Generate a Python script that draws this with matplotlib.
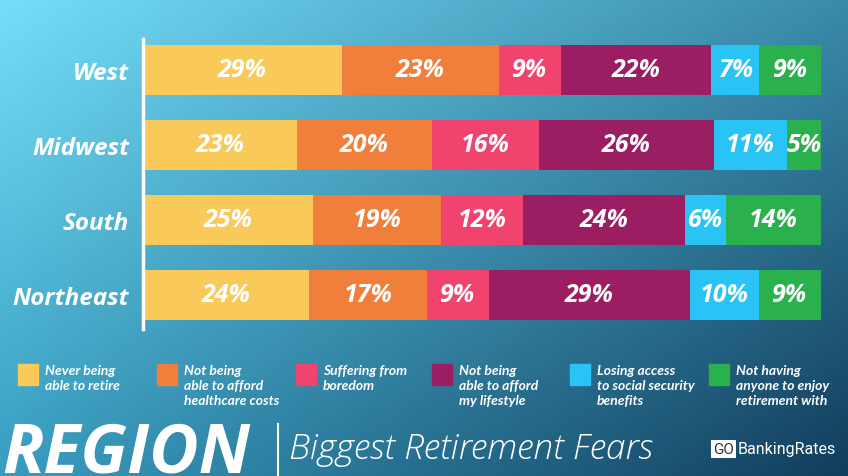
import numpy as np
import matplotlib
matplotlib.use("Agg")
import matplotlib.pyplot as plt
from matplotlib.colors import to_rgb
from matplotlib.patches import Rectangle

regions = ["West", "Midwest", "South", "Northeast"]
fears = ["Never being\nable to retire",
         "Not being\nable to afford\nhealthcare costs",
         "Suffering from\nboredom",
         "Not being\nable to afford\nmy lifestyle",
         "Losing access\nto social security\nbenefits",
         "Not having\nanyone to enjoy\nretirement with"]
never_retire = [29, 23, 25, 24]
healthcare = [23, 20, 19, 17]
boredom = [9, 16, 12, 9]
lifestyle = [22, 26, 24, 29]
social_security = [7, 11, 6, 10]
no_one = [9, 5, 14, 9]
colors = ["#f9c95a", "#f07f3c", "#f0436e", "#9b1d62", "#29c3f5", "#2bb04e"]

series = [never_retire, healthcare, boredom, lifestyle, social_security, no_one]

W, H = 848, 477
fig = plt.figure(figsize=(W / 100, H / 100), dpi=100)

# background gradient
bg = fig.add_axes([0, 0, 1, 1])
tl, tr, bl, br = [np.array(to_rgb(c)) for c in ("#74def8", "#3a8aab", "#389dc0", "#123d5c")]
xs = np.linspace(0, 1, 200)[None, :, None]
ys = np.linspace(0, 1, 120)[:, None, None]
img = (1 - ys) * ((1 - xs) * tl + xs * tr) + ys * ((1 - xs) * bl + xs * br)
bg.imshow(img, aspect="auto", extent=[0, 1, 0, 1], origin="upper")
bg.set_xlim(0, 1)
bg.set_ylim(0, 1)
bg.axis("off")

# main bar chart
ax = fig.add_axes([143 / W, 1 - 330 / H, 678 / W, 290 / H])
ax.patch.set_alpha(0)
data = np.array(series, dtype=float)
totals = data.sum(axis=0)
norm = data / totals * 100
ypos = np.arange(len(regions))
left = np.zeros(len(regions))
for i, vals in enumerate(norm):
    ax.barh(ypos, vals, left=left, height=50 / 75, color=colors[i], linewidth=0)
    for j, v in enumerate(vals):
        ax.text(left[j] + v / 2, ypos[j], f"{int(data[i][j])}%", ha="center", va="center",
                color="white", fontsize=18, fontweight="bold", fontstyle="italic",
                family="Open Sans")
    left += vals
ax.set_xlim(0, 100)
ax.set_ylim(3 + 34 / 75, -31 / 75)
ax.set_yticks(ypos)
ax.set_yticklabels(regions, fontsize=17.5, fontweight="bold", fontstyle="italic",
                   family="Open Sans", color="white")
ax.tick_params(axis="y", length=0, pad=10)
ax.set_xticks([])
for s in ("top", "right", "bottom"):
    ax.spines[s].set_visible(False)
ax.spines["left"].set_color("white")
ax.spines["left"].set_linewidth(2.5)

# legend
leg_x = [18, 157, 296, 432, 570, 709]
for x, lab, c in zip(leg_x, fears, colors):
    bg.add_patch(Rectangle((x / W, 1 - 386 / H), 20 / W, 21 / H, color=c, transform=bg.transAxes))
    bg.text((x + 27) / W, 1 - 365 / H, lab, ha="left", va="top", color="white",
            fontsize=10, fontweight="bold", fontstyle="italic",
            family="Lato", linespacing=1.3, transform=bg.transAxes)

# footer
bg.text(2 / W, 1 - 473 / H, "REGION", ha="left", va="baseline", color="white",
        fontsize=49, fontweight="bold", fontstyle="italic", family="Open Sans",
        transform=bg.transAxes)
bg.plot([278 / W, 278 / W], [0, 1 - 425 / H], color="white", lw=1.5, transform=bg.transAxes)
bg.text(289 / W, 1 - 450 / H, "Biggest Retirement Fears", ha="left", va="center",
        color="white", fontsize=25.5, fontstyle="italic", family="Open Sans",
        fontweight="light", transform=bg.transAxes)
bg.text(713 / W, 1 - 450 / H, "GO", ha="left", va="center", color="#333333",
        fontsize=11, family="Roboto", transform=bg.transAxes,
        bbox=dict(boxstyle="square,pad=0.12", fc="white", ec="none"))
bg.text(738 / W, 1 - 450 / H, "BankingRates", ha="left", va="center", color="white",
        fontsize=11.5, family="Roboto", transform=bg.transAxes)

fig.savefig("out.png", dpi=100)
